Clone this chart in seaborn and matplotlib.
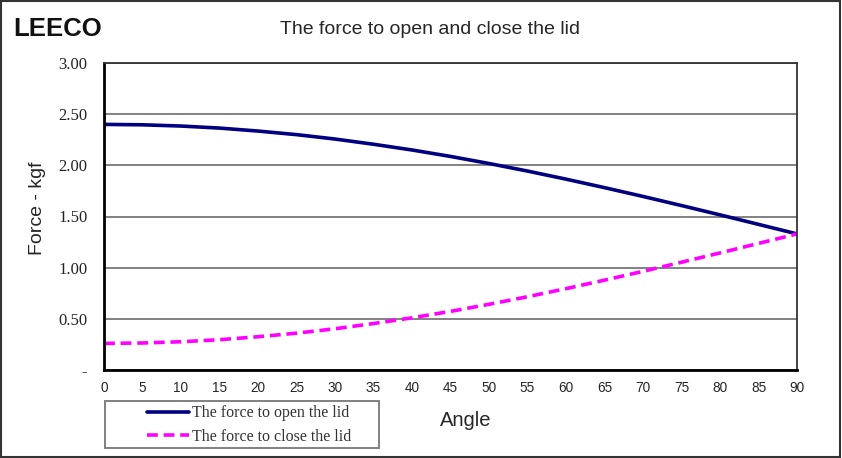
import matplotlib
matplotlib.use("Agg")
import matplotlib.pyplot as plt
import seaborn as sns
import pandas as pd
from matplotlib.patches import Rectangle

angles = [0, 5, 10, 15, 20, 25, 30, 35, 40, 45, 50, 55, 60, 65, 70, 75, 80, 85, 90]
force_open = [2.400, 2.396, 2.384, 2.364, 2.335, 2.300, 2.257, 2.206, 2.150, 2.087,
              2.018, 1.944, 1.865, 1.782, 1.696, 1.607, 1.516, 1.423, 1.330]
force_close = [0.260, 0.264, 0.276, 0.296, 0.325, 0.360, 0.403, 0.454, 0.510, 0.573,
               0.642, 0.716, 0.795, 0.878, 0.964, 1.053, 1.144, 1.237, 1.330]
series_names = ["The force to open the lid", "The force to close the lid"]
y_ticks = [0, 0.5, 1.0, 1.5, 2.0, 2.5, 3.0]
y_tick_labels = ["-", "0.50", "1.00", "1.50", "2.00", "2.50", "3.00"]
x_ticks = list(range(0, 91, 5))

df = pd.DataFrame({
    "Angle": angles * 2,
    "Force": force_open + force_close,
    "Series": [series_names[0]] * len(angles) + [series_names[1]] * len(angles),
})

sns.set_style("white")
fig = plt.figure(figsize=(8.42, 4.58), dpi=100)
ax = fig.add_axes([104 / 842, 1 - 370 / 458, (797 - 104) / 842, (370 - 63) / 458])

sns.lineplot(data=df, x="Angle", y="Force", hue="Series", style="Series",
             palette={series_names[0]: "#000080", series_names[1]: "#FF00FF"},
             dashes={series_names[0]: "", series_names[1]: (3, 1.6)},
             linewidth=2.6, ax=ax, legend=False)

ax.set_xlim(0, 90)
ax.set_ylim(0, 3.0)
ax.set_yticks(y_ticks)
ax.set_yticklabels(y_tick_labels, family="Liberation Serif", fontsize=12, color="#222222")
ax.set_xticks(x_ticks)
ax.set_xticklabels([str(v) for v in x_ticks], family="Liberation Sans", fontsize=9.8)
ax.tick_params(axis="x", direction="in", length=4, width=1, color="#555555", pad=8)
ax.tick_params(axis="y", length=0, pad=12)
ax.grid(axis="y", color="#606060", linewidth=1.1)
ax.set_axisbelow(True)
for side in ["top", "right"]:
    ax.spines[side].set_linewidth(1.3)
    ax.spines[side].set_color("#333333")
for side in ["left", "bottom"]:
    ax.spines[side].set_linewidth(2.0)
    ax.spines[side].set_color("black")

ax.set_xlabel("")
ax.set_ylabel("")
fig.text(37 / 842, 1 - 208 / 458, "Force - kgf", rotation=90, ha="center", va="center",
         family="Liberation Sans", fontsize=14)
fig.text(466 / 842, 1 - 421 / 458, "Angle", ha="center", va="center",
         family="Liberation Sans", fontsize=14.5)
fig.text(430 / 842, 1 - 29 / 458, "The force to open and close the lid", ha="center",
         va="center", family="Liberation Sans", fontsize=14)
fig.text(13 / 842, 1 - 29 / 458, "LEECO", ha="left", va="center",
         family="Liberation Sans", fontsize=18.5, weight="bold", color="#111111")

# legend
handles = ax.get_lines()[:2]
leg = fig.legend(handles, series_names, loc="center left",
                 bbox_to_anchor=(147 / 842, 1 - 425 / 458),
                 prop={"family": "Liberation Serif", "size": 11.5},
                 frameon=False, handlelength=2.6, handletextpad=0.2,
                 labelspacing=0.45, borderpad=0, borderaxespad=0)
for t in leg.get_texts():
    t.set_color("#333333")
fig.patches.append(Rectangle((105 / 842, 1 - 448 / 458), (379 - 105) / 842, 47 / 458,
                             transform=fig.transFigure, fill=False,
                             edgecolor="#777777", linewidth=1.3))

# figure border
fig.patches.append(Rectangle((0.001, 0.002), 0.997, 0.996, transform=fig.transFigure,
                             fill=False, edgecolor="#333333", linewidth=1.5))

fig.savefig("out.png", dpi=100)
